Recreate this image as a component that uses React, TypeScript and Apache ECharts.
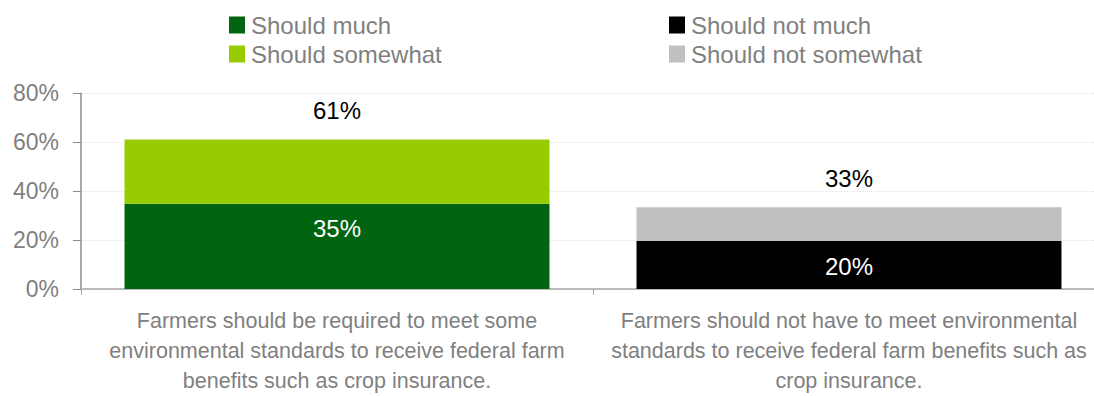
import React, { useEffect, useRef } from "react";
import * as echarts from "echarts";

const categories = [
  "Farmers should be required to meet some\nenvironmental standards to receive federal farm\nbenefits such as crop insurance.",
  "Farmers should not have to meet environmental\nstandards to receive federal farm benefits such as\ncrop insurance.",
];
const shouldMuch = [34.8, null];
const shouldSomewhat = [26.3, null];
const shouldNotMuch = [null, 19.6];
const shouldNotSomewhat = [null, 13.8];
const yTicks = [0, 20, 40, 60, 80];

const totals = categories.map(
  (_, i) =>
    (shouldMuch[i] ?? 0) +
    (shouldSomewhat[i] ?? 0) +
    (shouldNotMuch[i] ?? 0) +
    (shouldNotSomewhat[i] ?? 0)
);

const FONT = "'Liberation Sans', Arial, sans-serif";

export default function App() {
  const ref = useRef<HTMLDivElement>(null);
  useEffect(() => {
    if (!ref.current) return;
    const chart = echarts.init(ref.current, null, { renderer: "svg" });
    const insideLabel = {
      show: true,
      position: "insideTop",
      distance: 13,
      color: "#ffffff",
      fontSize: 24,
      fontFamily: FONT,
      formatter: (p: any) => Math.round(p.value) + "%",
    };
    const topLabel = {
      show: true,
      position: "top",
      distance: 17,
      color: "#000000",
      fontSize: 24,
      fontFamily: FONT,
      formatter: (p: any) => Math.round(totals[p.dataIndex]) + "%",
    };
    const legendBase = {
      orient: "vertical",
      top: 13,
      padding: 0,
      itemWidth: 16,
      itemHeight: 17,
      itemGap: 5,
      icon: "rect",
      textStyle: { color: "#808080", fontSize: 24, fontFamily: FONT, padding: [0, 0, 0, 1] },
    };
    chart.setOption({
      animation: false,
      textStyle: { fontFamily: FONT },
      legend: [
        { ...legendBase, left: 229, data: ["Should much", "Should somewhat"] },
        { ...legendBase, left: 669, data: ["Should not much", "Should not somewhat"] },
      ],
      grid: { left: 81, top: 93.3, width: 1024, bottom: 101, containLabel: false },
      xAxis: {
        type: "category",
        data: categories,
        axisLine: { show: true, lineStyle: { color: "#a6a6a6", width: 1.5 } },
        axisTick: { show: true, alignWithLabel: false, length: 6, lineStyle: { color: "#a6a6a6" } },
        axisLabel: {
          interval: 0,
          color: "#808080",
          fontSize: 21.5,
          lineHeight: 30,
          margin: 17,
          fontFamily: FONT,
        },
      },
      yAxis: {
        type: "value",
        min: 0,
        max: 80,
        interval: 20,
        axisLine: { show: true, lineStyle: { color: "#8c8c8c", width: 1.5 } },
        axisTick: { show: true, length: 8, lineStyle: { color: "#8c8c8c" } },
        splitLine: { show: true, lineStyle: { color: "#e3e3e3", type: "dotted" } },
        axisLabel: {
          color: "#808080",
          fontSize: 23,
          margin: 22,
          fontFamily: FONT,
          formatter: (v: number) => (yTicks.includes(v) ? v + "%" : ""),
        },
      },
      series: [
        {
          name: "Should much",
          type: "bar",
          stack: "total",
          barCategoryGap: "17%",
          data: shouldMuch.map((v) => (v == null ? "-" : v)),
          itemStyle: { color: "#006411" },
          label: insideLabel,
        },
        {
          name: "Should somewhat",
          type: "bar",
          stack: "total",
          data: shouldSomewhat.map((v) => (v == null ? "-" : v)),
          itemStyle: { color: "#99cc00" },
          label: topLabel,
        },
        {
          name: "Should not much",
          type: "bar",
          stack: "total",
          data: shouldNotMuch.map((v) => (v == null ? "-" : v)),
          itemStyle: { color: "#000000" },
          label: insideLabel,
        },
        {
          name: "Should not somewhat",
          type: "bar",
          stack: "total",
          data: shouldNotSomewhat.map((v) => (v == null ? "-" : v)),
          itemStyle: { color: "#c0c0c0" },
          label: topLabel,
        },
      ],
    });
    return () => chart.dispose();
  }, []);
  return (
    <div
      style={{ position: "absolute", left: 0, top: 0, width: 1094, height: 396, overflow: "hidden", background: "#fff" }}
    >
      <div ref={ref} style={{ width: 1130, height: 396 }} />
    </div>
  );
}
